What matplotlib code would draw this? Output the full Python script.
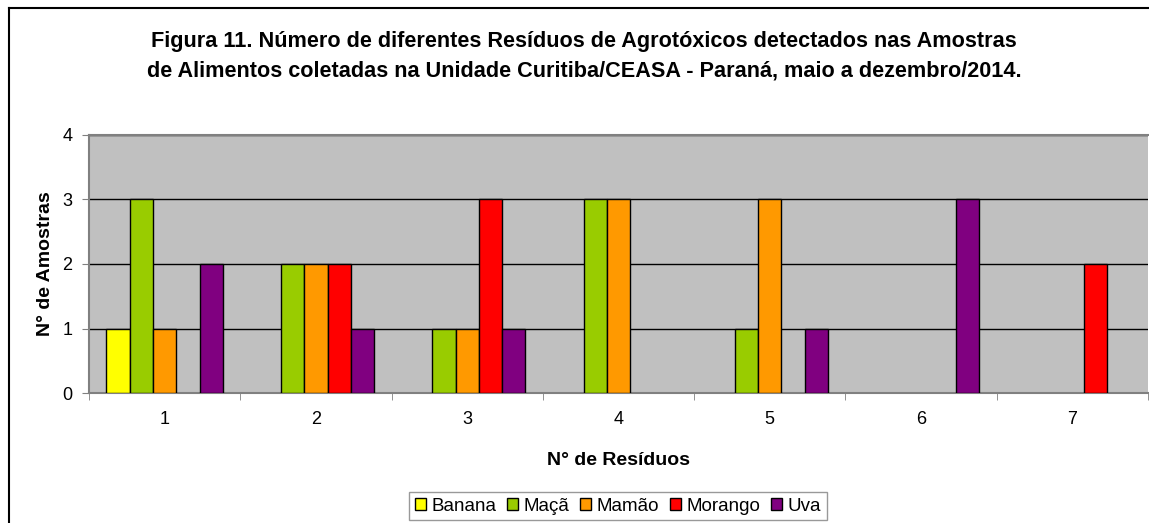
import numpy as np
import matplotlib
matplotlib.use("Agg")
from matplotlib import pyplot as plt
from matplotlib.patches import Patch
from matplotlib.lines import Line2D

residuos = [1, 2, 3, 4, 5, 6, 7]
series = ["Banana", "Maçã", "Mamão", "Morango", "Uva"]
banana = [1, 0, 0, 0, 0, 0, 0]
maca = [3, 2, 1, 3, 1, 0, 0]
mamao = [1, 2, 1, 3, 3, 0, 0]
morango = [0, 2, 3, 0, 0, 0, 2]
uva = [2, 1, 1, 0, 1, 3, 0]
colors = ["#FFFF00", "#99CC00", "#FF9900", "#FF0000", "#800080"]

plt.rcParams["font.family"] = ["Liberation Sans", "DejaVu Sans"]

W, H = 1149, 523
fig = plt.figure(figsize=(W / 100, H / 100), dpi=100)
ax = fig.add_axes([89 / W, 1 - 393 / H, (1148 - 89) / W, (393 - 135) / H])
ax.set_facecolor("#C0C0C0")

width = 1 / 6.5
x = np.array(residuos, dtype=float)
for i, (vals, c) in enumerate(zip([banana, maca, mamao, morango, uva], colors)):
    vals = np.array(vals, dtype=float)
    keep = vals > 0  # Excel draws nothing for zero counts
    ax.bar(x[keep] + (i - 2) * width, vals[keep], width=width, color=c,
           edgecolor="black", linewidth=1, zorder=3)

ax.set_xlim(0.5, 7.5)
ax.set_ylim(0, 4)
ax.set_yticks([0, 1, 2, 3, 4])
ax.grid(axis="y", color="black", linewidth=1, zorder=1)
ax.set_xticks(residuos)
ax.set_xticks(np.arange(0.5, 7.6, 1), minor=True)
ax.tick_params(axis="x", which="major", length=0, pad=13, labelsize=13)
ax.tick_params(axis="x", which="minor", length=5, color="#808080", direction="out")
ax.tick_params(axis="y", length=5, color="#808080", pad=7, labelsize=13)
for s in ["left", "bottom", "top"]:
    ax.spines[s].set_color("#808080")
    ax.spines[s].set_linewidth(1.5)
ax.spines["right"].set_visible(False)

ax.set_xlabel("N° de Resíduos", fontsize=14, fontweight="bold", labelpad=17)
ax.set_ylabel("N° de Amostras", fontsize=14, fontweight="bold", labelpad=6)

fig.text(584 / W, 1 - 42 / H,
         "Figura 11. Número de diferentes Resíduos de Agrotóxicos detectados nas Amostras",
         ha="center", va="center", fontsize=15.6, fontweight="bold")
fig.text(584 / W, 1 - 71 / H,
         "de Alimentos coletadas na Unidade Curitiba/CEASA - Paraná, maio a dezembro/2014.",
         ha="center", va="center", fontsize=15.6, fontweight="bold")

# figure border (cut at right and bottom)
fig.add_artist(Line2D([9 / W, 1.0], [1 - 8 / H, 1 - 8 / H], color="black", linewidth=1.5))
fig.add_artist(Line2D([9 / W, 9 / W], [0, 1 - 8 / H], color="black", linewidth=1.5))

handles = [Patch(facecolor=c, edgecolor="black", linewidth=1) for c in colors]
leg = fig.legend(handles, series, loc="upper center", bbox_to_anchor=(618 / W, 1 - 492 / H),
                 ncol=5, fontsize=13.5, frameon=True, fancybox=False,
                 handlelength=0.6, handleheight=0.6, handletextpad=0.3,
                 columnspacing=0.55, borderpad=0.3, borderaxespad=0)
leg.get_frame().set_edgecolor("#808080")
leg.get_frame().set_linewidth(1)

fig.savefig("out.png", dpi=100)
